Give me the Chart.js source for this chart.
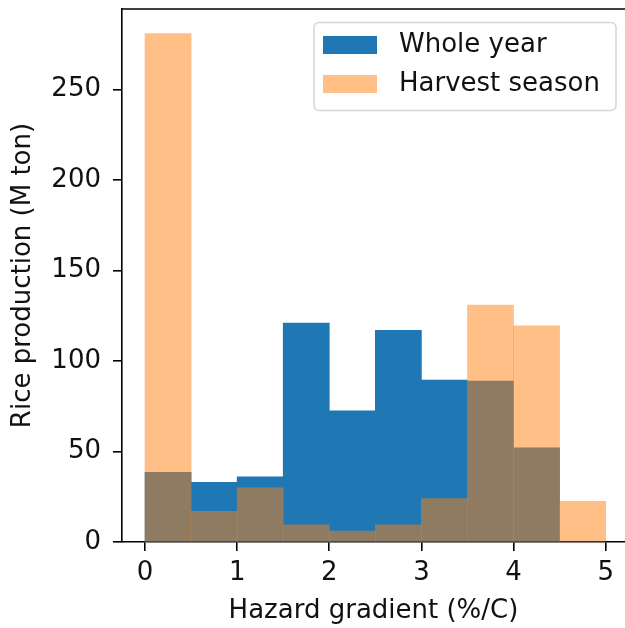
<!DOCTYPE html>
<html>
<head>
<meta charset="utf-8">
<script src="https://cdn.jsdelivr.net/npm/chart.js@4"></script>
<style>
  html, body { margin: 0; padding: 0; background: #fff; overflow: hidden; }
  canvas { display: block; }
</style>
</head>
<body>
<canvas id="histChart" width="625" height="628"></canvas>
<script>
// histogram bins (width 0.5)
const binCenters = [0.25, 0.75, 1.25, 1.75, 2.25, 2.75, 3.25, 3.75, 4.25, 4.75];
const wholeYear = [38.5, 33, 36, 121, 72.5, 117, 89.5, 89, 52, 0];
const harvestSeason = [281, 17, 30, 9.5, 6, 9.5, 24, 131, 119.5, 22.5];
const xTicks = [0, 1, 2, 3, 4, 5];
const yTicks = [0, 50, 100, 150, 200, 250];

const FONT = '"DejaVu Sans", sans-serif';
const INK = '#111';

// matplotlib style legend box inside the axes, plus the top spine
const boxLegend = {
    id: 'boxLegend',
    afterDatasetsDraw(chart) {
        const { ctx, chartArea } = chart;
        ctx.save();
        ctx.strokeStyle = '#000';
        ctx.lineWidth = 1.6;
        ctx.beginPath();
        ctx.moveTo(chartArea.left, chartArea.top);
        ctx.lineTo(chartArea.right, chartArea.top);
        ctx.stroke();

        const w = 302, h = 88;
        const left = chartArea.right - 9 - w;
        const top = chartArea.top + 13.5;
        ctx.beginPath();
        ctx.roundRect(left, top, w, h, 5);
        ctx.fillStyle = 'rgba(255,255,255,0.8)';
        ctx.fill();
        ctx.strokeStyle = '#d6d6d6';
        ctx.lineWidth = 1.5;
        ctx.stroke();

        ctx.font = '26px ' + FONT;
        ctx.textBaseline = 'middle';
        chart.data.datasets.forEach((ds, i) => {
            const cy = top + 22.5 + i * 39;
            ctx.fillStyle = ds.backgroundColor;
            ctx.fillRect(left + 9, cy - 9, 54, 18);
            ctx.fillStyle = INK;
            ctx.fillText(ds.label, left + 85, cy);
        });
        ctx.restore();
    }
};

const ctx = document.getElementById('histChart').getContext('2d');
new Chart(ctx, {
    type: 'bar',
    data: {
        datasets: [{
            label: 'Whole year',
            data: binCenters.map((x, i) => ({ x, y: wholeYear[i] })),
            backgroundColor: '#1f77b4',
            order: 2
        }, {
            label: 'Harvest season',
            data: binCenters.map((x, i) => ({ x, y: harvestSeason[i] })),
            backgroundColor: 'rgba(255,127,14,0.5)',
            order: 1
        }]
    },
    options: {
        responsive: false,
        animation: false,
        layout: { padding: { left: 0, right: 0, top: 9, bottom: 0 } },
        datasets: {
            bar: { barPercentage: 1, categoryPercentage: 1, grouped: false, borderWidth: 0 }
        },
        plugins: {
            legend: { display: false },
            tooltip: { enabled: false }
        },
        scales: {
            x: {
                type: 'linear',
                min: -0.25,
                max: 5.21,
                offset: false,
                afterBuildTicks: scale => { scale.ticks = xTicks.map(v => ({ value: v })); },
                afterFit: scale => {
                    scale.height = 86;
                    scale.paddingLeft = 0;
                    scale.paddingRight = 0;
                },
                grid: { offset: false, drawOnChartArea: false, drawTicks: true, tickLength: 9, color: '#000', lineWidth: 1.6 },
                border: { display: true, color: '#000', width: 1.6 },
                ticks: { font: { family: FONT, size: 26 }, color: INK, padding: 7, maxRotation: 0, autoSkip: false },
                title: {
                    display: true,
                    text: 'Hazard gradient (%/C)',
                    font: { family: FONT, size: 26 },
                    color: INK,
                    padding: { top: 0, bottom: 1 }
                }
            },
            y: {
                min: 0,
                max: 294.6,
                afterBuildTicks: scale => { scale.ticks = yTicks.map(v => ({ value: v })); },
                afterFit: scale => {
                    scale.width = 122;
                    scale.paddingTop = 0;
                    scale.paddingBottom = 0;
                },
                grid: { drawOnChartArea: false, drawTicks: true, tickLength: 9, color: '#000', lineWidth: 1.6 },
                border: { display: true, color: '#000', width: 1.6 },
                ticks: { font: { family: FONT, size: 26 }, color: INK, padding: 12, autoSkip: false },
                title: {
                    display: true,
                    text: 'Rice production (M ton)',
                    font: { family: FONT, size: 26 },
                    color: INK,
                    padding: { top: 8, bottom: 0 }
                }
            }
        }
    },
    plugins: [boxLegend]
});
</script>
</body>
</html>
